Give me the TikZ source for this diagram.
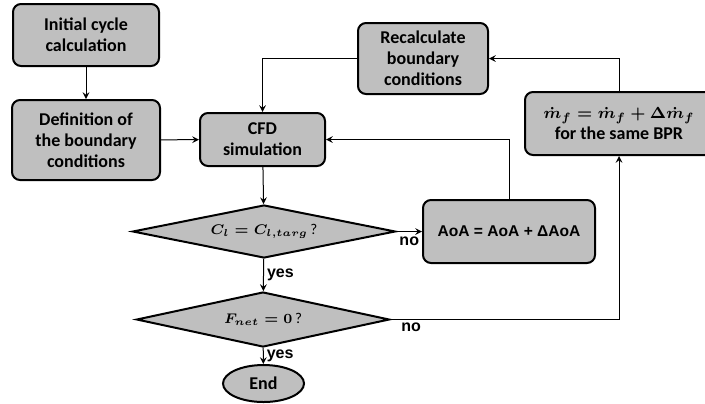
\documentclass[tikz,border=0pt]{standalone}
\usepackage[no-math]{fontspec}
\setmainfont{Carlito}
\newfontfamily\arialfont{Liberation Sans}
\usetikzlibrary{shapes.geometric}
\tikzset{
	box/.style={draw,line width=1pt,fill=black!25,rounded corners=4pt,align=center,inner sep=0pt,font=\fontsize{9}{10.5}\selectfont\bfseries},
	decision/.style={draw,line width=1pt,fill=black!25,diamond,shape aspect=5,inner sep=0pt,font=\fontsize{7.5}{9}\selectfont\boldmath},
	term/.style={draw,line width=1pt,fill=black!25,ellipse,inner sep=0pt,font=\fontsize{9}{10.5}\selectfont\bfseries},
	lbl/.style={font=\arialfont\fontsize{8}{9}\selectfont\bfseries,inner sep=1.5pt}
}
\begin{document}
\begin{tikzpicture}[x=0.5pt,y=-0.5pt,>=stealth,line width=0.5pt]
	\useasboundingbox (0,0) rectangle (705,403);
	\node[box,minimum width=73pt,minimum height=31pt] (init) at (86,35) {Initial cycle\\calculation};
	\node[box,minimum width=74pt,minimum height=40pt] (bc) at (86,140) {Definition of\\the boundary\\conditions};
	\node[box,minimum width=62.5pt,minimum height=26.5pt] (cfd) at (262.5,139.5) {CFD\\simulation};
	\node[box,minimum width=65pt,minimum height=35.5pt] (recalc) at (423,58.5) {Recalculate\\boundary\\conditions};
	\node[box,minimum width=94pt,minimum height=31.5pt] (fuel) at (619,123.5) {{\fontsize{8.5}{10}\selectfont\boldmath$\dot{m}_f=\dot{m}_f+\Delta\dot{m}_f$}\\for the same BPR};
	\node[box,font=\arialfont\fontsize{7.8}{9}\selectfont\bfseries,minimum width=86pt,minimum height=31.5pt] (aoa) at (509,231.5) {AoA = AoA + ΔAoA};
	\node[decision,minimum width=131.5pt,minimum height=26.5pt] (cl) at (264,231.5) {$C_l = C_{l,targ}$\,?};
	\node[decision,minimum width=126.5pt,minimum height=27.5pt] (fnet) at (263,319.5) {$F_{net} = 0$\,?};
	\node[term,minimum width=40.5pt,minimum height=18.5pt] (end) at (263.5,383.5) {End};
	\draw[->] (init) -- (bc);
	\draw[->] (bc) -- (cfd);
	\draw[->] (recalc.west) -| (cfd.north);
	\draw[->] (aoa.north) |- (cfd.east);
	\draw[->] (cfd) -- (cl);
	\draw[->] (cl) -- node[lbl,below=1pt]{no} (aoa);
	\draw[->] (cl) -- node[lbl,right]{yes} (fnet);
	\draw[->] (fnet.east) -| node[lbl,below,pos=0.045]{no} (fuel.south);
	\draw[->] (fnet) -- node[lbl,right]{yes} (end);
	\draw[->] (fuel.north) |- (recalc.east);
\end{tikzpicture}
\end{document}
